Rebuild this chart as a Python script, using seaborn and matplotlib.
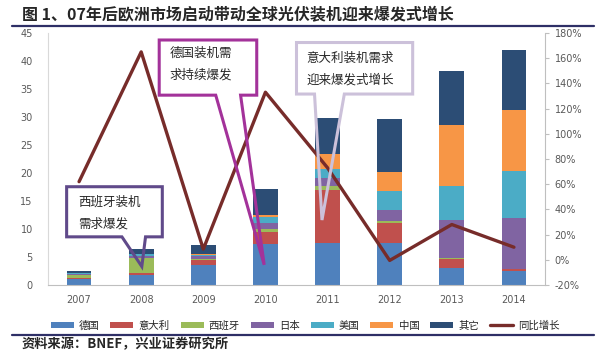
import numpy as np
import pandas as pd
import seaborn as sns
import matplotlib.pyplot as plt
from matplotlib.patches import Patch, Polygon, Rectangle
from matplotlib.lines import Line2D

# 全球光伏新增装机 (GW) 与同比增长
anos = ['2007', '2008', '2009', '2010', '2011', '2012', '2013', '2014']
alemanha = [1.1, 1.8, 3.6, 7.4, 7.45, 7.45, 3.1, 2.5]
italia = [0.1, 0.4, 0.9, 2.1, 9.5, 3.55, 1.6, 0.35]
espanha = [0.55, 2.7, 0.15, 0.5, 0.7, 0.45, 0.2, 0.05]
japao = [0.2, 0.23, 0.45, 1.1, 1.5, 1.9, 6.7, 9.1]
eua = [0.2, 0.35, 0.3, 1.0, 1.5, 3.4, 6.0, 8.4]
china = [0.03, 0.05, 0.15, 0.45, 2.75, 3.4, 10.9, 10.9]
outros = [0.4, 0.9, 1.55, 4.6, 6.4, 9.45, 9.65, 10.7]
crescimento = [62, 165, 8.5, 133, 73, -0.5, 28, 10]

nomes = ['德国', '意大利', '西班牙', '日本', '美国', '中国', '其它']
cores = ['#4F81BD', '#C0504D', '#9BBB59', '#8064A2', '#4BACC6', '#F79646', '#2C4D75']
cor_linha = '#772C2A'

sns.set_style('white')
plt.rcParams['font.family'] = ['Noto Sans CJK SC', 'DejaVu Sans']

df = pd.DataFrame({'ano': anos})
series = [alemanha, italia, espanha, japao, eua, china, outros]
acum = np.cumsum(np.array(series), axis=0)

fig = plt.figure(figsize=(6.03, 3.56), dpi=100)
ax = fig.add_axes([48/603, 1 - 285/356, 497/603, 252/356])

# empilhado: desenha do topo para baixo
for i in range(len(series) - 1, -1, -1):
    df['v'] = acum[i]
    sns.barplot(data=df, x='ano', y='v', color=cores[i], saturation=1,
                width=0.4, linewidth=0, ax=ax)

ax.set_ylim(0, 45)
ax.set_yticks(range(0, 46, 5))
ax.set_xlim(-0.5, 7.5)
ax.set_xlabel('')
ax.set_ylabel('')
ax.tick_params(axis='y', length=0, pad=11, labelsize=7, labelcolor='#595959')
ax.tick_params(axis='x', length=0, pad=7, labelsize=7, labelcolor='#595959')
for t in ax.get_xticklabels() + ax.get_yticklabels():
    t.set_family('DejaVu Sans')
ax.spines['top'].set_visible(False)
ax.spines['right'].set_visible(False)
ax.spines['left'].set_color('#D9D9D9')
ax.spines['bottom'].set_color('#BFBFBF')

ax2 = ax.twinx()
sns.lineplot(x=np.arange(len(anos)), y=crescimento, color=cor_linha,
             linewidth=2.4, ax=ax2)
ax2.set_ylim(-20, 180)
ax2.set_yticks(range(-20, 181, 20))
ax2.set_yticklabels([f'{v}%' for v in range(-20, 181, 20)])
ax2.set_xlim(-0.5, 7.5)
ax2.tick_params(axis='y', length=3, width=0.8, color='#BFBFBF', pad=4,
                labelsize=7, labelcolor='#595959')
for t in ax2.get_yticklabels():
    t.set_family('DejaVu Sans')
for s in ['top', 'left', 'bottom']:
    ax2.spines[s].set_visible(False)
ax2.spines['right'].set_color('#BFBFBF')


def balao(x0, x1, y0, y1, b0, b1, ponta, cor, linhas, tx, ty):
    ax2.add_patch(Rectangle((x0, y0), x1 - x0, y1 - y0, facecolor='white',
                            edgecolor='none', transform=ax.transData, zorder=5))
    verts = [(x0, y1), (x1, y1), (x1, y0), (b1, y0), ponta, (b0, y0), (x0, y0)]
    ax2.add_patch(Polygon(verts, closed=True, fill=False, edgecolor=cor,
                          linewidth=2.2, joinstyle='miter',
                          transform=ax.transData, zorder=6))
    for k, s in enumerate(linhas):
        ax2.text(tx, ty - k * 3.9, s, transform=ax.transData, fontsize=9,
                 va='center', ha='left', zorder=7)


balao(1.29, 2.86, 33.9, 43.75, 2.2, 2.6, (2.98, 3.6), '#A3329A',
      ['德国装机需', '求持续爆发'], 1.46, 41.4)
balao(-0.2, 1.34, 8.6, 17.55, 0.69, 1.07, (1.01, 3.3), '#604A8A',
      ['西班牙装机', '需求爆发'], -0.02, 14.8)
balao(3.50, 5.37, 34.1, 43.3, 3.79, 4.27, (3.91, 11.6), '#CCC1DA',
      ['意大利装机需求', '迎来爆发式增长'], 3.66, 40.5)

handles = [Patch(facecolor=c, edgecolor='none') for c in cores]
handles.append(Line2D([0], [0], color=cor_linha, linewidth=2.4))
fig.legend(handles, nomes + ['同比增长'], loc='center', ncol=8,
           bbox_to_anchor=(0.506, 1 - 325.7/356), frameon=False, fontsize=7.5,
           handlelength=2.2, handleheight=0.6, handletextpad=0.5,
           columnspacing=1.05)

fig.text(22/603, 1 - 14/356, '图 1、07年后欧洲市场启动带动全球光伏装机迎来爆发式增长',
         fontsize=11.5, fontweight='bold', va='center', ha='left')
fig.add_artist(Line2D([12/603, 594/603], [1 - 25.5/356] * 2, color='#2E2F66', linewidth=1.6))
fig.add_artist(Line2D([12/603, 594/603], [1 - 334.5/356] * 2, color='#2E2F66', linewidth=1.6))
fig.text(22/603, 1 - 344/356, '资料来源：BNEF，兴业证券研究所', fontsize=9.5,
         fontweight='bold', va='center', ha='left')

fig.savefig('out.png', dpi=100)
